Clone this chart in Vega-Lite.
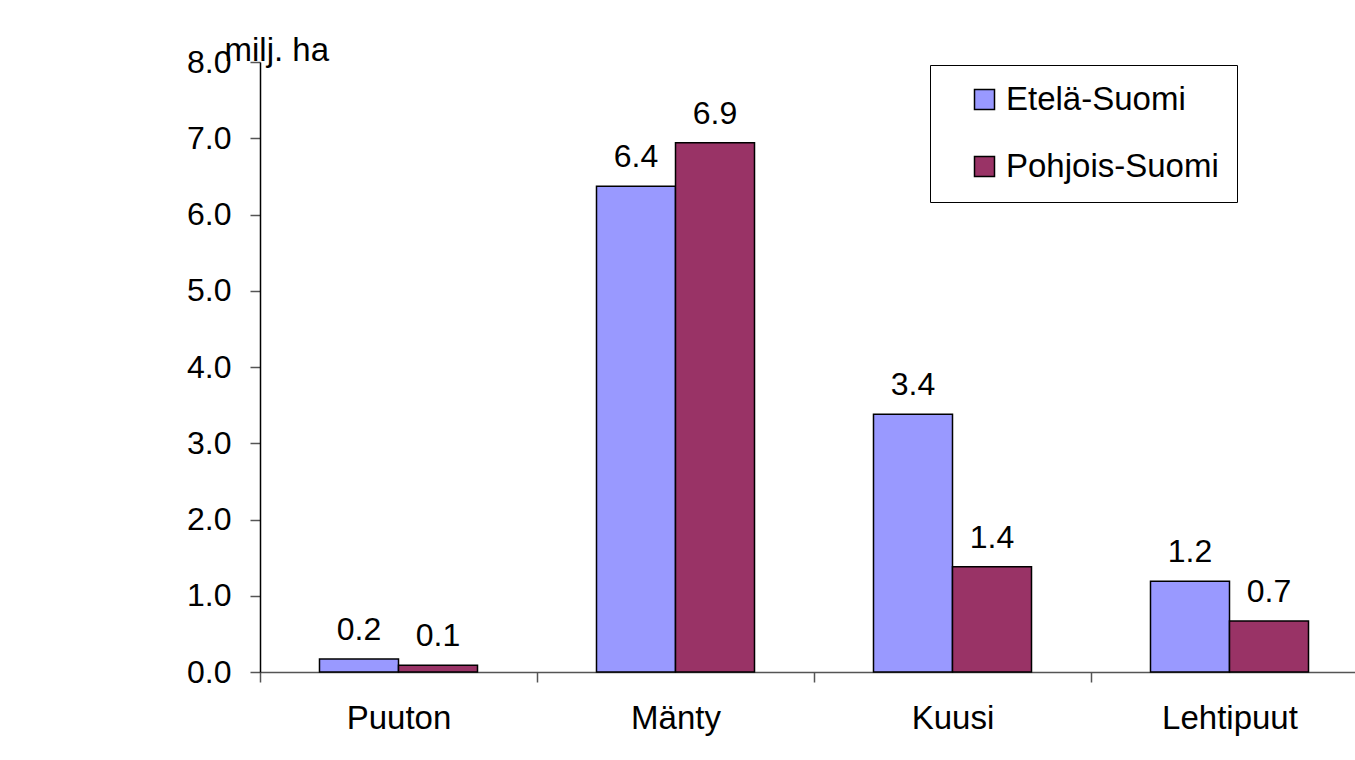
{
  "$schema": "https://vega.github.io/schema/vega-lite/v6.json",
  "autosize": "none",
  "width": 1108,
  "height": 610,
  "padding": {"left": 260, "top": 62, "right": 0, "bottom": 88},
  "background": "white",
  "config": {
    "view": {"stroke": null},
    "font": "Liberation Sans",
    "text": {"font": "Liberation Sans"}
  },
  "data": {
    "values": [
      {"laji": "Puuton", "alue": "Etelä-Suomi", "ha": 0.17},
      {"laji": "Puuton", "alue": "Pohjois-Suomi", "ha": 0.09},
      {"laji": "Mänty", "alue": "Etelä-Suomi", "ha": 6.37},
      {"laji": "Mänty", "alue": "Pohjois-Suomi", "ha": 6.94},
      {"laji": "Kuusi", "alue": "Etelä-Suomi", "ha": 3.38},
      {"laji": "Kuusi", "alue": "Pohjois-Suomi", "ha": 1.38},
      {"laji": "Lehtipuut", "alue": "Etelä-Suomi", "ha": 1.19},
      {"laji": "Lehtipuut", "alue": "Pohjois-Suomi", "ha": 0.67}
    ]
  },
  "encoding": {
    "x": {
      "field": "laji", "type": "nominal",
      "sort": ["Puuton", "Mänty", "Kuusi", "Lehtipuut"],
      "scale": {"paddingInner": 0, "paddingOuter": 0},
      "axis": {
        "title": null, "labelAngle": 0, "tickBand": "extent",
        "domainColor": "#555555", "tickColor": "#555555", "tickSize": 10,
        "labelFontSize": 33, "labelColor": "black", "labelPadding": 20,
        "labelFont": "Liberation Sans", "domainWidth": 1.5, "tickWidth": 1.5
      }
    },
    "xOffset": {
      "field": "alue", "type": "nominal",
      "sort": ["Etelä-Suomi", "Pohjois-Suomi"],
      "scale": {"paddingInner": 0, "paddingOuter": 0.753}
    },
    "y": {
      "field": "ha", "type": "quantitative",
      "scale": {"domain": [0, 8], "nice": false},
      "axis": {
        "title": "milj. ha", "titleAngle": 0, "titleX": -36, "titleY": -2,
        "titleAlign": "left", "titleBaseline": "alphabetic",
        "titleFontSize": 33, "titleFontWeight": "normal", "titleColor": "black",
        "titleFont": "Liberation Sans",
        "values": [0, 1, 2, 3, 4, 5, 6, 7, 8], "format": ".1f",
        "grid": false, "domainColor": "black", "tickColor": "#555555",
        "tickSize": 10, "labelPadding": 19, "labelFontSize": 32,
        "labelColor": "black", "labelFont": "Liberation Sans",
        "domainWidth": 1.5, "tickWidth": 1.5
      }
    }
  },
  "layer": [
    {
      "mark": {"type": "bar", "stroke": "black", "strokeWidth": 1.5},
      "encoding": {
        "color": {
          "field": "alue", "type": "nominal",
          "sort": ["Etelä-Suomi", "Pohjois-Suomi"],
          "scale": {"domain": ["Etelä-Suomi", "Pohjois-Suomi"], "range": ["#9999FF", "#993366"]},
          "legend": {
            "title": null, "orient": "none", "legendX": 670, "legendY": 3,
            "strokeColor": "black", "fillColor": "white", "padding": 18,
            "symbolType": "square", "symbolSize": 400, "symbolStrokeColor": "black",
            "symbolStrokeWidth": 1.5, "symbolOffset": 20,
            "labelOffset": 5, "labelFontSize": 33, "labelColor": "black",
            "labelFont": "Liberation Sans", "rowPadding": 33, "labelLimit": 400
          }
        }
      }
    },
    {
      "mark": {"type": "text", "baseline": "alphabetic", "dy": -19, "fontSize": 32, "font": "Liberation Sans", "color": "black"},
      "encoding": {
        "text": {"field": "ha", "type": "quantitative", "format": ".1f"}
      }
    }
  ]
}
